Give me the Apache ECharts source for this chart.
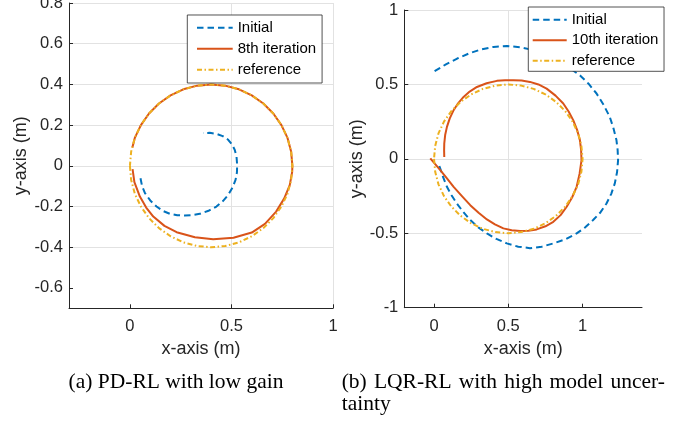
<!DOCTYPE html>
<html>
<head>
<meta charset="utf-8">
<script src="https://cdn.jsdelivr.net/npm/echarts@6/dist/echarts.min.js"></script>
<style>
  html, body { margin: 0; padding: 0; background: #fff; }
  #chart { width: 694px; height: 421px; }
</style>
</head>
<body>
<div id="chart"></div>
<script>
// tick labels
const pdXTicks = [0, 0.5, 1];
const pdYTicks = [-0.6, -0.4, -0.2, 0, 0.2, 0.4, 0.6, 0.8];
const lqrXTicks = [0, 0.5, 1];
const lqrYTicks = [-1, -0.5, 0, 0.5, 1];

// (a) PD-RL with low gain, [x, y] in metres
const pdInitial = [
    [0.052, -0.061], [0.060, -0.100], [0.074, -0.134], [0.100, -0.170], [0.131, -0.200],
    [0.163, -0.222], [0.197, -0.236], [0.233, -0.243], [0.270, -0.244], [0.307, -0.242],
    [0.344, -0.236], [0.387, -0.221], [0.426, -0.200], [0.458, -0.173], [0.484, -0.143],
    [0.505, -0.107], [0.520, -0.069], [0.527, -0.032], [0.528, 0.005], [0.525, 0.044],
    [0.516, 0.079], [0.502, 0.106], [0.484, 0.128], [0.457, 0.146], [0.426, 0.157],
    [0.393, 0.162], [0.360, 0.161]
];
const pdIter8 = [
    [0.013, -0.016], [0.022, -0.080], [0.049, -0.151], [0.080, -0.205], [0.115, -0.249],
    [0.170, -0.295], [0.230, -0.326], [0.320, -0.351], [0.410, -0.361], [0.510, -0.353],
    [0.600, -0.328], [0.665, -0.285], [0.720, -0.225], [0.760, -0.160], [0.787, -0.095],
    [0.799, -0.030], [0.800, 0.000], [0.794, 0.069], [0.776, 0.137], [0.746, 0.200],
    [0.706, 0.257], [0.657, 0.306], [0.600, 0.346], [0.537, 0.376], [0.469, 0.394],
    [0.400, 0.400], [0.331, 0.394], [0.263, 0.376], [0.200, 0.346], [0.143, 0.306],
    [0.094, 0.257], [0.054, 0.200], [0.024, 0.137], [0.012, 0.090]
];
const pdReference = [
    [0.000, 0.000], [0.006, -0.069], [0.024, -0.137], [0.054, -0.200], [0.094, -0.257],
    [0.143, -0.306], [0.200, -0.346], [0.263, -0.376], [0.331, -0.394], [0.400, -0.400],
    [0.469, -0.394], [0.537, -0.376], [0.600, -0.346], [0.657, -0.306], [0.706, -0.257],
    [0.746, -0.200], [0.776, -0.137], [0.794, -0.069], [0.800, 0.000], [0.794, 0.069],
    [0.776, 0.137], [0.746, 0.200], [0.706, 0.257], [0.657, 0.306], [0.600, 0.346],
    [0.537, 0.376], [0.469, 0.394], [0.400, 0.400], [0.331, 0.394], [0.263, 0.376],
    [0.200, 0.346], [0.143, 0.306], [0.094, 0.257], [0.054, 0.200], [0.024, 0.137],
    [0.006, 0.069], [0.000, 0.000]
];

// (b) LQR-RL with high model uncertainty
const lqrInitial = [
    [0.004, 0.589], [0.080, 0.635], [0.156, 0.674], [0.235, 0.708], [0.313, 0.734],
    [0.400, 0.752], [0.492, 0.758], [0.583, 0.750], [0.671, 0.730], [0.760, 0.693],
    [0.850, 0.645], [0.920, 0.605], [0.983, 0.560], [1.040, 0.505], [1.094, 0.439],
    [1.142, 0.362], [1.183, 0.282], [1.208, 0.205], [1.228, 0.126], [1.236, 0.060],
    [1.239, -0.009], [1.232, -0.090], [1.217, -0.165], [1.193, -0.235], [1.161, -0.300],
    [1.120, -0.360], [1.071, -0.411], [1.018, -0.460], [0.960, -0.501], [0.885, -0.540],
    [0.803, -0.568], [0.725, -0.590], [0.646, -0.600], [0.567, -0.590], [0.490, -0.568],
    [0.420, -0.538], [0.356, -0.501], [0.298, -0.460], [0.244, -0.411], [0.197, -0.357],
    [0.154, -0.300], [0.118, -0.245], [0.087, -0.188], [0.062, -0.125], [0.042, -0.065],
    [0.035, -0.045]
];
const lqrIter10 = [
    [-0.025, 0.003], [0.008, -0.036], [0.042, -0.076], [0.087, -0.132], [0.132, -0.188],
    [0.188, -0.250], [0.244, -0.311], [0.300, -0.362], [0.356, -0.407], [0.410, -0.440],
    [0.467, -0.467], [0.523, -0.480], [0.579, -0.485], [0.635, -0.483], [0.691, -0.474],
    [0.750, -0.453], [0.803, -0.423], [0.852, -0.378], [0.893, -0.322], [0.930, -0.258],
    [0.960, -0.188], [0.980, -0.100], [0.993, -0.009], [0.990, 0.060], [0.982, 0.126],
    [0.963, 0.195], [0.937, 0.260], [0.906, 0.318], [0.870, 0.372], [0.818, 0.425],
    [0.758, 0.472], [0.703, 0.500], [0.646, 0.517], [0.590, 0.526], [0.534, 0.528],
    [0.478, 0.528], [0.423, 0.524], [0.354, 0.508], [0.289, 0.483], [0.240, 0.452],
    [0.199, 0.416], [0.162, 0.373], [0.132, 0.327], [0.106, 0.272], [0.087, 0.215],
    [0.075, 0.160], [0.069, 0.103], [0.068, 0.058], [0.069, 0.013]
];
const lqrReference = [
    [0.000, 0.000], [0.008, -0.087], [0.030, -0.171], [0.067, -0.250], [0.117, -0.321],
    [0.179, -0.383], [0.250, -0.433], [0.329, -0.470], [0.413, -0.492], [0.500, -0.500],
    [0.587, -0.492], [0.671, -0.470], [0.750, -0.433], [0.821, -0.383], [0.883, -0.321],
    [0.933, -0.250], [0.970, -0.171], [0.992, -0.087], [1.000, 0.000], [0.992, 0.087],
    [0.970, 0.171], [0.933, 0.250], [0.883, 0.321], [0.821, 0.383], [0.750, 0.433],
    [0.671, 0.470], [0.587, 0.492], [0.500, 0.500], [0.413, 0.492], [0.329, 0.470],
    [0.250, 0.433], [0.179, 0.383], [0.117, 0.321], [0.067, 0.250], [0.030, 0.171],
    [0.008, 0.087], [0.000, 0.000]
];

const FONT = "'Liberation Sans', Arial, Helvetica, sans-serif";
const CAPTION_FONT = "21.5px 'Liberation Serif', 'Times New Roman', serif";
const AXIS_COLOR = '#262626';
const GRID_COLOR = '#e2e2e2';
const BLUE = '#0072BD';
const ORANGE = '#D95319';
const YELLOW = '#EDB120';

// 坐标轴
function makeAxis(cfg) {
    return {
        type: 'value',
        gridIndex: cfg.grid,
        min: cfg.min,
        max: cfg.max,
        minInterval: cfg.step,
        maxInterval: cfg.step,
        name: cfg.name,
        nameLocation: 'middle',
        nameGap: cfg.nameGap,
        nameTextStyle: { fontSize: 18, color: AXIS_COLOR, fontFamily: FONT },
        axisLine: { show: true, onZero: false, lineStyle: { color: AXIS_COLOR, width: 1 } },
        axisTick: {
            show: true, inside: true, length: 4,
            customValues: cfg.ticks,
            lineStyle: { color: AXIS_COLOR, width: 1 }
        },
        axisLabel: {
            customValues: cfg.ticks,
            margin: cfg.margin,
            fontSize: 16.5,
            color: AXIS_COLOR,
            fontFamily: FONT
        },
        splitLine: {
            show: true,
            showMinLine: cfg.minLine,
            showMaxLine: cfg.maxLine,
            lineStyle: { color: GRID_COLOR, width: 1 }
        }
    };
}

function makeLine(name, data, idx, color, type) {
    return {
        name: name,
        type: 'line',
        xAxisIndex: idx,
        yAxisIndex: idx,
        data: data,
        symbol: 'none',
        showSymbol: false,
        smooth: false,
        clip: false,
        lineStyle: { color: color, width: 2, type: type, join: 'round' },
        itemStyle: { color: color }
    };
}

function makeLegend(names, left, top, padding, itemWidth, itemGap) {
    return {
        orient: 'vertical',
        left: left,
        top: top,
        data: names,
        selectedMode: false,
        itemWidth: itemWidth,
        itemHeight: 14,
        itemGap: itemGap,
        padding: padding,
        backgroundColor: '#fff',
        borderColor: AXIS_COLOR,
        borderWidth: 0.8,
        itemStyle: { opacity: 0 },
        textStyle: { fontSize: 15, color: '#000', lineHeight: 14, fontFamily: FONT }
    };
}

function captionText(text, x, y, align) {
    return {
        type: 'text',
        x: x,
        y: y,
        style: {
            text: text,
            font: CAPTION_FONT,
            fill: '#000',
            align: align,
            verticalAlign: 'middle'
        }
    };
}

// 两端对齐的一行
const measureCtx = document.createElement('canvas').getContext('2d');
measureCtx.font = CAPTION_FONT;
function justifiedLine(line, x0, x1, y) {
    const words = line.split(' ');
    const widths = words.map(w => measureCtx.measureText(w).width);
    const total = widths.reduce((a, b) => a + b, 0);
    const gap = (x1 - x0 - total) / (words.length - 1);
    let x = x0;
    return words.map((w, i) => {
        const el = captionText(w, x, y, 'left');
        x += widths[i] + gap;
        return el;
    });
}

const DASH = [6.5, 4];
const DASH_DOT = [5, 2.5, 1.5, 2.5];

const chart = echarts.init(document.getElementById('chart'), null, { renderer: 'canvas' });
chart.setOption({
    animation: false,
    backgroundColor: '#fff',
    grid: [
        { left: 69, top: 3, width: 264, height: 305.3, outerBoundsMode: 'none', containLabel: false },
        { left: 404.3, top: 10, width: 237.7, height: 297.7, outerBoundsMode: 'none', containLabel: false }
    ],
    xAxis: [
        makeAxis({ grid: 0, min: -0.3, max: 1, step: 0.5, ticks: pdXTicks, name: 'x-axis (m)', nameGap: 32, margin: 10, minLine: false, maxLine: true }),
        makeAxis({ grid: 1, min: -0.2, max: 1.4, step: 0.5, ticks: lqrXTicks, name: 'x-axis (m)', nameGap: 32, margin: 10, minLine: false, maxLine: false })
    ],
    yAxis: [
        makeAxis({ grid: 0, min: -0.7, max: 0.8, step: 0.2, ticks: pdYTicks, name: 'y-axis (m)', nameGap: 39, margin: 6, minLine: false, maxLine: true }),
        makeAxis({ grid: 1, min: -1, max: 1, step: 0.5, ticks: lqrYTicks, name: 'y-axis (m)', nameGap: 38, margin: 6, minLine: false, maxLine: true })
    ],
    legend: [
        makeLegend(['Initial', '8th iteration', 'reference'], 187.3, 15, [5.3, 6, 5.7, 8.7], 35.7, 6),
        makeLegend(['Initial', '10th iteration', 'reference'], 528.3, 7, [5.3, 5.6, 3, 3.4], 34, 5.5)
    ],
    series: [
        makeLine('Initial', pdInitial, 0, BLUE, DASH),
        makeLine('8th iteration', pdIter8, 0, ORANGE, 'solid'),
        makeLine('reference', pdReference, 0, YELLOW, DASH_DOT),
        makeLine('Initial', lqrInitial, 1, BLUE, DASH),
        makeLine('10th iteration', lqrIter10, 1, ORANGE, 'solid'),
        makeLine('reference', lqrReference, 1, YELLOW, DASH_DOT)
    ],
    graphic: [
        captionText('(a) PD-RL with low gain', 176, 382.5, 'center')
    ].concat(
        justifiedLine('(b) LQR-RL with high model uncer-', 341.7, 665, 382.5),
        [captionText('tainty', 341.7, 404.5, 'left')]
    )
});
</script>
</body>
</html>
